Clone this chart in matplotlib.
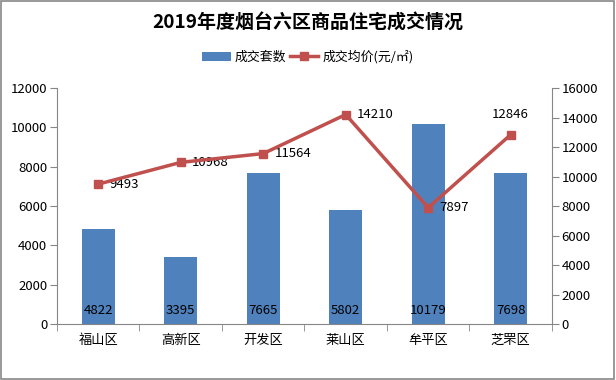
import numpy as np
import matplotlib.pyplot as plt

plt.rcParams['font.family'] = ['Noto Sans CJK SC', 'DejaVu Sans']

districts = ['福山区', '高新区', '开发区', '莱山区', '牟平区', '芝罘区']
volume = [4822, 3395, 7665, 5802, 10179, 7698]
price = [9493, 10968, 11564, 14210, 7897, 12846]
# where each price label sits: 'r' right of marker, 't' above
price_label_pos = ['r', 'r', 'r', 'r', 'r', 't']

bar_color = '#4F81BD'
line_color = '#C0504D'
axis_color = '#868686'

fig = plt.figure(figsize=(6.16, 3.8), dpi=100)
fig.patches.append(plt.Rectangle((0.002, 0.003), 0.995, 0.994, transform=fig.transFigure,
                                 fill=False, edgecolor='#888888', linewidth=1.2))
ax = fig.add_axes([0.0925, 0.147, 0.8035, 0.621])
ax2 = ax.twinx()

x = np.arange(len(districts))
bars = ax.bar(x, volume, width=0.4, color=bar_color, label='成交套数', zorder=2)
ax.set_ylim(0, 12000)
ax.set_yticks(np.arange(0, 12001, 2000))
ax.set_xlim(-0.5, len(districts) - 0.5)
ax.set_xticks(x)
ax.set_xticklabels(districts, fontsize=9.5)
ax.set_xticks(np.arange(-0.5, len(districts), 1), minor=True)
ax.tick_params(axis='x', which='major', length=0, pad=7)
ax.tick_params(axis='x', which='minor', length=5, color=axis_color)
ax.tick_params(axis='y', length=5, color=axis_color, labelsize=9.5, pad=2)

for xi, v in zip(x, volume):
    ax.annotate(str(v), (xi, 0), xytext=(0, 10), textcoords='offset points',
                ha='center', va='center', fontsize=9.5, color='black', zorder=3)

line, = ax2.plot(x, price, color=line_color, linewidth=2.5, marker='s', markersize=6,
                 label='成交均价(元/㎡)', zorder=4)
ax2.set_ylim(0, 16000)
ax2.set_yticks(np.arange(0, 16001, 2000))
ax2.tick_params(axis='y', length=5, color=axis_color, labelsize=9.5, pad=2)

for xi, p, pos in zip(x, price, price_label_pos):
    if pos == 'r':
        ax2.annotate(str(p), (xi, p), xytext=(8, 0), textcoords='offset points',
                     ha='left', va='center', fontsize=9.5)
    else:
        ax2.annotate(str(p), (xi, p), xytext=(0, 10), textcoords='offset points',
                     ha='center', va='bottom', fontsize=9.5)

for a in (ax, ax2):
    a.spines['top'].set_visible(False)
    for s in ('left', 'right', 'bottom'):
        a.spines[s].set_color(axis_color)
ax.spines['right'].set_visible(False)
ax2.spines['left'].set_visible(False)
ax2.spines['bottom'].set_visible(False)

fig.text(0.5, 0.94, '2019年度烟台六区商品住宅成交情况', ha='center', va='center',
         fontsize=13.7, fontweight='bold')
fig.legend([bars, line], ['成交套数', '成交均价(元/㎡)'], loc='center',
           bbox_to_anchor=(0.5, 0.85), ncol=2, frameon=False, fontsize=9.3,
           handlelength=2.2, columnspacing=0.3, handletextpad=0.3)

fig.savefig('out.png', dpi=100)
